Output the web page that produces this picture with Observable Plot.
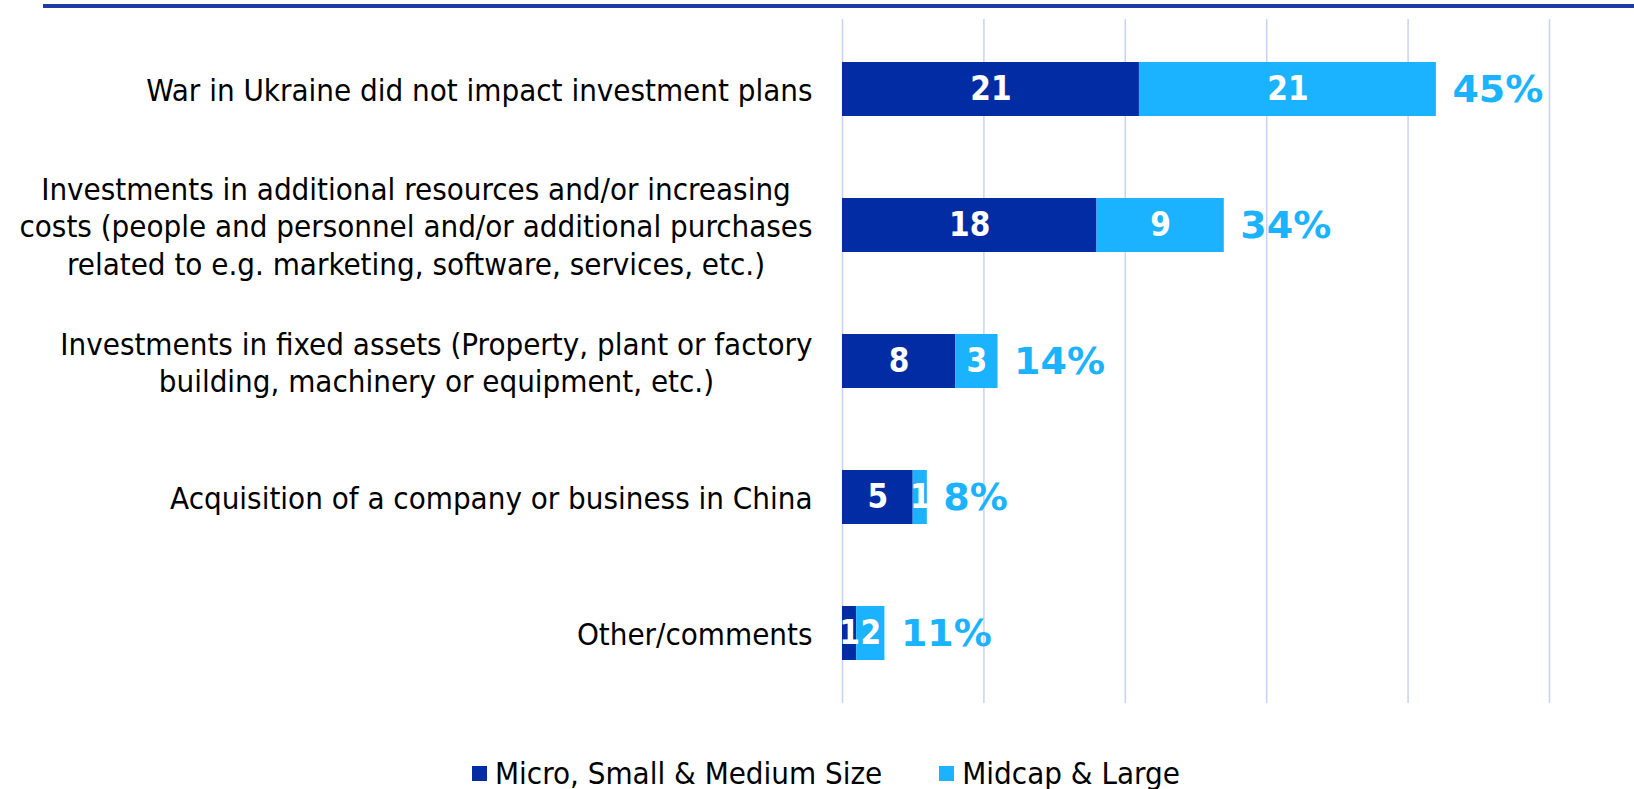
<!DOCTYPE html>
<html>
<head>
<meta charset="utf-8">
<script src="https://cdn.jsdelivr.net/npm/d3@7"></script>
<script src="https://cdn.jsdelivr.net/npm/@observablehq/plot@0.6"></script>
<style>
  html, body { margin: 0; padding: 0; background: #fff; overflow: hidden; width: 1634px; height: 789px; }
  #wrap { position: relative; width: 1634px; height: 789px; font-family: "DejaVu Sans Condensed", "DejaVu Sans", sans-serif; font-stretch: condensed; }
  #topline { position: absolute; left: 43px; top: 4px; width: 1591px; height: 4px; background: #1f3ca6; }
  #chart { position: absolute; left: 0; top: 0; }
  #legend { position: absolute; left: 472px; top: 755px; height: 36px; display: flex; align-items: center; font-size: 31px; color: #000; white-space: nowrap; }
  .item { display: flex; align-items: center; }
  .sw { width: 15px; height: 15px; margin-right: 8px; }
</style>
</head>
<body>
<div id="wrap">
  <div id="topline"></div>
  <div id="chart"></div>
  <div id="legend"></div>
</div>
<script>
const categories = [
  "War in Ukraine did not impact investment plans",
  "Investments in additional resources and/or increasing\ncosts (people and personnel and/or additional purchases\nrelated to e.g. marketing, software, services, etc.)",
  "Investments in fixed assets (Property, plant or factory\nbuilding, machinery or equipment, etc.)",
  "Acquisition of a company or business in China",
  "Other/comments"
];
const series = ["Micro, Small & Medium Size", "Midcap & Large"];
const smallMedium = [21, 18, 8, 5, 1];
const midcapLarge = [21, 9, 3, 1, 2];
const percentLabels = ["45%", "34%", "14%", "8%", "11%"];
const xTicks = [0, 10, 20, 30, 40, 50];
const colors = ["#022ca3", "#1bb3ff"];

const rows = [];
categories.forEach((c, i) => {
  rows.push({category: c, group: series[0], value: smallMedium[i]});
  rows.push({category: c, group: series[1], value: midcapLarge[i]});
});
const totals = categories.map((c, i) => ({category: c, total: smallMedium[i] + midcapLarge[i], label: percentLabels[i]}));

const fontFam = '"DejaVu Sans Condensed", "DejaVu Sans", sans-serif';

const chart = Plot.plot({
  width: 1634,
  height: 745,
  marginTop: 19,
  marginBottom: 42,
  marginLeft: 842,
  marginRight: 85,
  style: {fontFamily: fontFam, fontSize: "31px", color: "#000", background: "transparent"},
  x: {domain: [0, 50], ticks: xTicks, axis: null},
  y: {domain: categories, paddingInner: 0.6, paddingOuter: 0.3, label: null},
  color: {domain: series, range: colors},
  marks: [
    Plot.ruleX(xTicks, {stroke: "#c7d3f6", strokeWidth: 1.5}),
    Plot.axisY({tickSize: 0, tickPadding: 30, fontSize: 31, lineHeight: 1.2, label: null, textAnchor: "end"}),
    Plot.barX(rows, {y: "category", x: "value", fill: "group"}),
    Plot.text(rows, Plot.stackX({y: "category", x: "value", z: "group", text: d => String(d.value), fill: "white", fontWeight: "bold", fontSize: 33})),
    Plot.text(totals, {y: "category", x: "total", text: "label", textAnchor: "start", dx: 16, fill: "#1bb3ff", fontWeight: "bold", fontSize: 38, fontFamily: '"DejaVu Sans", sans-serif'})
  ]
});
document.getElementById("chart").appendChild(chart);

// percentage labels use the normal-width face
chart.querySelectorAll('g[aria-label="text"]').forEach(g => {
  if (g.getAttribute("font-size") === "38") g.style.fontStretch = "normal";
});

// center each multi-line category label block, keeping the block right-aligned
chart.querySelectorAll('g[aria-label="y-axis tick label"] text').forEach(t => {
  const b1 = t.getBBox();
  t.setAttribute("text-anchor", "middle");
  const b2 = t.getBBox();
  const shift = (b1.x + b1.width / 2) - (b2.x + b2.width / 2);
  t.setAttribute("transform", (t.getAttribute("transform") || "") + ` translate(${shift},0)`);
});

const legend = document.getElementById("legend");
series.forEach((s, i) => {
  const it = document.createElement("div");
  it.className = "item";
  if (i > 0) it.style.marginLeft = "57px";
  it.innerHTML = `<div class="sw" style="background:${colors[i]}"></div><span>${s}</span>`;
  legend.appendChild(it);
});
</script>
</body>
</html>
